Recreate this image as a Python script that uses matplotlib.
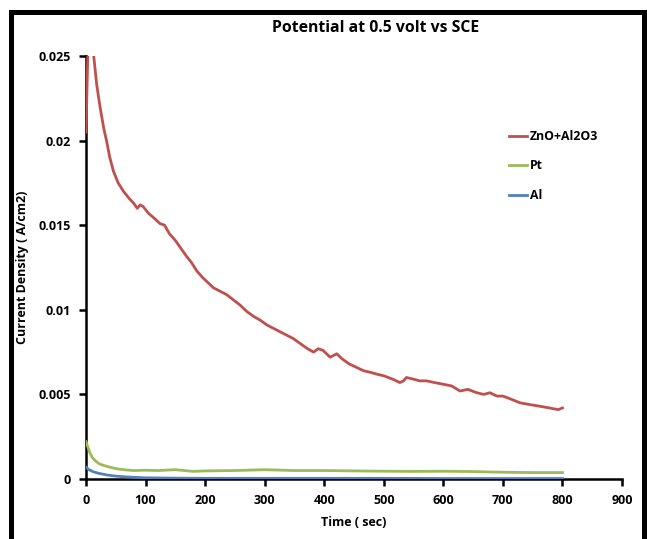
import numpy as np
import matplotlib
matplotlib.use("Agg")
import matplotlib.pyplot as plt
from matplotlib.lines import Line2D

# ZnO+Al2O3 current density (A/cm2) vs time (sec)
znoal_time = [0, 3, 8, 13, 18, 24, 30, 35, 40, 46, 54, 63, 72, 80, 86, 91, 96,
              105, 115, 124, 132, 140, 150, 158, 168, 177, 186, 196, 205, 214,
              225, 236, 247, 258, 270, 282, 292, 304, 315, 326, 337, 348, 360,
              372, 382, 390, 398, 410, 421, 430, 442, 454, 466, 478, 488, 500,
              515, 527, 533, 538, 550, 560, 572, 585, 600, 614, 628, 641, 656,
              668, 678, 690, 700, 715, 729, 745, 762, 778, 793, 800]
znoal_curr = [0.0205, 0.0250, 0.0262, 0.0250, 0.0233, 0.0219, 0.0207, 0.0199,
              0.0190, 0.0182, 0.0175, 0.0170, 0.0166, 0.0163, 0.0160, 0.0162,
              0.0161, 0.0157, 0.0154, 0.0151, 0.0150, 0.0145, 0.0141, 0.0137,
              0.0132, 0.0128, 0.0123, 0.0119, 0.0116, 0.0113, 0.0111, 0.0109,
              0.0106, 0.0103, 0.0099, 0.0096, 0.0094, 0.0091, 0.0089, 0.0087,
              0.0085, 0.0083, 0.0080, 0.0077, 0.0075, 0.0077, 0.0076, 0.0072,
              0.0074, 0.0071, 0.0068, 0.0066, 0.0064, 0.0063, 0.0062, 0.0061,
              0.0059, 0.0057, 0.0058, 0.0060, 0.0059, 0.0058, 0.0058, 0.0057,
              0.0056, 0.0055, 0.0052, 0.0053, 0.0051, 0.0050, 0.0051, 0.0049,
              0.0049, 0.0047, 0.0045, 0.0044, 0.0043, 0.0042, 0.0041, 0.0042]

pt_time = [0, 3, 6, 10, 15, 22, 30, 40, 52, 63, 80, 100, 120, 150, 180, 200,
           250, 300, 350, 400, 450, 500, 550, 600, 650, 700, 750, 800]
pt_curr = [0.0022, 0.0019, 0.0016, 0.0013, 0.0011, 0.0009, 0.0008, 0.0007,
           0.0006, 0.00055, 0.0005, 0.00052, 0.0005, 0.00055, 0.00045, 0.00048,
           0.0005, 0.00055, 0.0005, 0.0005, 0.00048, 0.00046, 0.00045, 0.00046,
           0.00044, 0.0004, 0.00038, 0.00038]

al_time = [0, 5, 12, 22, 35, 50, 65, 80, 100, 150, 200, 300, 400, 500, 600,
           700, 800]
al_curr = [0.0007, 0.00055, 0.00043, 0.00033, 0.00024, 0.00017, 0.00013,
           0.0001, 0.00007, 0.00005, 0.00004, 0.00004, 0.00004, 0.00004,
           0.00003, 0.00003, 0.00003]

x_ticks = [0, 100, 200, 300, 400, 500, 600, 700, 800, 900]
y_ticks = [0, 0.005, 0.01, 0.015, 0.02, 0.025]
y_tick_labels = ["0", "0.005", "0.01", "0.015", "0.02", "0.025"]

plt.rcParams["font.family"] = ["Open Sans", "DejaVu Sans"]

fig = plt.figure(figsize=(6.47, 5.39), dpi=100)
ax = fig.add_axes([0.1329, 0.1113, 0.8285, 0.7848])

ax.plot(znoal_time, znoal_curr, color="#C0504D", lw=2, label="ZnO+Al2O3", zorder=3)
ax.plot(pt_time, pt_curr, color="#9BBB59", lw=2, label="Pt", zorder=3)
ax.plot(al_time, al_curr, color="#4F81BD", lw=2, label="Al", zorder=3)

ax.set_xlim(0, 900)
ax.set_ylim(0, 0.025)
ax.set_xticks(x_ticks)
ax.set_xticklabels([str(t) for t in x_ticks])
ax.set_yticks(y_ticks)
ax.set_yticklabels(y_tick_labels)
for s in ["top", "right"]:
    ax.spines[s].set_visible(False)
for s in ["left", "bottom"]:
    ax.spines[s].set_linewidth(1.8)
ax.tick_params(direction="out", length=5, width=1.8, labelsize=9, pad=6)
for lbl in ax.get_xticklabels() + ax.get_yticklabels():
    lbl.set_fontweight("bold")

ax.set_xlabel("Time ( sec)", fontsize=9, fontweight="bold", labelpad=6)
ax.set_ylabel("Current Density ( A/cm2)", fontsize=9, fontweight="bold")
ax.yaxis.set_label_coords((29 - 86) / 536, 0.5)
fig.text(376 / 647, 1 - 28 / 539, "Potential at 0.5 volt vs SCE",
         ha="center", va="center", fontsize=11.3, fontweight="bold")

leg = ax.legend(loc="upper left", bbox_to_anchor=(498 / 647, 1 - 119 / 539),
                bbox_transform=fig.transFigure, frameon=False, fontsize=8.8,
                handlelength=1.5, handletextpad=0.2, labelspacing=1.35)
for t in leg.get_texts():
    t.set_fontweight("bold")

# black frame around the picture
for xs, ys in [([10.5, 10.5], [539, 11.5]), ([10.5, 644], [11.5, 11.5]),
               ([644, 644], [11.5, 539])]:
    fig.add_artist(Line2D([x / 647 for x in xs], [1 - y / 539 for y in ys],
                          color="black", lw=3.6, transform=fig.transFigure))

fig.savefig("out.png", dpi=100)
